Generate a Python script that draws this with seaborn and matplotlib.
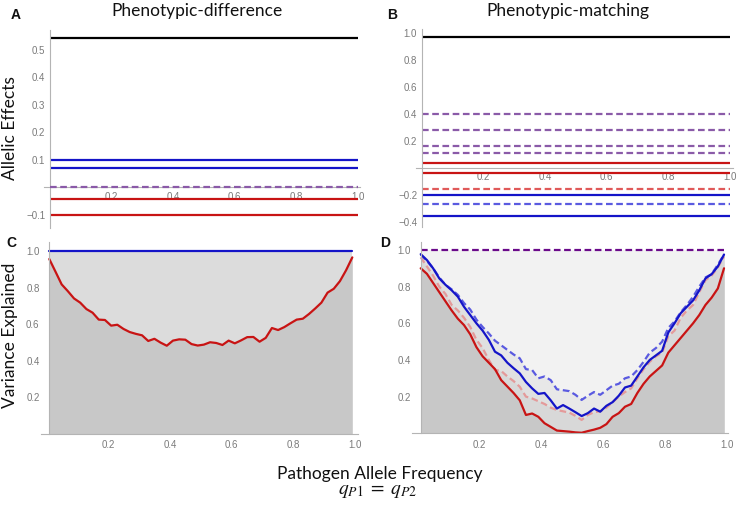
import matplotlib
matplotlib.use("Agg")
import matplotlib.pyplot as plt
import seaborn as sns
import pandas as pd

# ---------------- data ----------------
# Panel A: constant allelic effects (Phenotypic-difference)
a_black = [0.545]
a_blue = [0.10, 0.07]
a_purple_dashed = [0.0]
a_red = [-0.042, -0.10]

# Panel B: constant allelic effects (Phenotypic-matching)
b_black = [0.965]
b_purple_dashed = [0.40, 0.278, 0.159, 0.11]
b_red = [0.036, -0.038]
b_red_dashed = [-0.157]
b_blue = [-0.204, -0.357]
b_blue_dashed = [-0.273]

# Allele frequency grid for panels C and D
freq = [0.01, 0.03, 0.05, 0.07, 0.09, 0.11, 0.13, 0.15, 0.17, 0.19,
        0.21, 0.23, 0.25, 0.27, 0.29, 0.31, 0.33, 0.35, 0.37, 0.39,
        0.41, 0.43, 0.45, 0.47, 0.49, 0.51, 0.53, 0.55, 0.57, 0.59,
        0.61, 0.63, 0.65, 0.67, 0.69, 0.71, 0.73, 0.75, 0.77, 0.79,
        0.81, 0.83, 0.85, 0.87, 0.89, 0.91, 0.93, 0.95, 0.97, 0.99]

# Panel C
c_blue = [1.0] * 50
c_red = [0.956, 0.887, 0.817, 0.780, 0.740, 0.717, 0.682, 0.662, 0.624, 0.622,
         0.591, 0.596, 0.573, 0.556, 0.546, 0.538, 0.507, 0.519, 0.498, 0.481,
         0.509, 0.516, 0.514, 0.490, 0.482, 0.487, 0.500, 0.496, 0.485, 0.509,
         0.494, 0.510, 0.528, 0.529, 0.503, 0.524, 0.578, 0.567, 0.583, 0.604,
         0.624, 0.629, 0.655, 0.685, 0.717, 0.772, 0.793, 0.835, 0.895, 0.965]

# Panel D
d_purple_dashed = [1.0] * 50
d_blue = [0.977, 0.945, 0.900, 0.845, 0.810, 0.780, 0.745, 0.690, 0.645, 0.600,
          0.560, 0.510, 0.445, 0.425, 0.385, 0.355, 0.327, 0.280, 0.245, 0.215,
          0.220, 0.180, 0.135, 0.154, 0.135, 0.115, 0.094, 0.110, 0.135, 0.118,
          0.150, 0.170, 0.205, 0.250, 0.260, 0.310, 0.360, 0.400, 0.425, 0.450,
          0.550, 0.600, 0.655, 0.690, 0.725, 0.780, 0.845, 0.868, 0.910, 0.975]
d_blue_dashed = [0.975, 0.940, 0.900, 0.850, 0.810, 0.785, 0.755, 0.710, 0.675, 0.620,
                 0.580, 0.545, 0.505, 0.480, 0.455, 0.430, 0.409, 0.350, 0.345, 0.300,
                 0.310, 0.290, 0.240, 0.235, 0.230, 0.210, 0.182, 0.205, 0.225, 0.210,
                 0.235, 0.260, 0.270, 0.300, 0.310, 0.345, 0.390, 0.440, 0.465, 0.500,
                 0.575, 0.610, 0.660, 0.700, 0.745, 0.800, 0.850, 0.868, 0.920, 0.975]
d_pink_dashed = [0.960, 0.910, 0.860, 0.800, 0.760, 0.700, 0.670, 0.630, 0.580, 0.510,
                 0.465, 0.400, 0.345, 0.340, 0.310, 0.285, 0.254, 0.200, 0.190, 0.175,
                 0.160, 0.140, 0.127, 0.120, 0.113, 0.095, 0.073, 0.100, 0.115, 0.120,
                 0.140, 0.170, 0.200, 0.225, 0.245, 0.300, 0.350, 0.390, 0.420, 0.440,
                 0.530, 0.560, 0.630, 0.670, 0.700, 0.770, 0.835, 0.860, 0.905, 0.965]
d_red = [0.900, 0.870, 0.820, 0.770, 0.720, 0.670, 0.625, 0.590, 0.540, 0.470,
         0.420, 0.385, 0.350, 0.290, 0.255, 0.220, 0.180, 0.100, 0.108, 0.090,
         0.055, 0.035, 0.015, 0.012, 0.009, 0.005, 0.003, 0.012, 0.020, 0.030,
         0.050, 0.090, 0.110, 0.145, 0.160, 0.220, 0.270, 0.310, 0.340, 0.370,
         0.440, 0.480, 0.520, 0.560, 0.600, 0.645, 0.700, 0.740, 0.790, 0.900]

x_ticks = [0.2, 0.4, 0.6, 0.8, 1.0]
a_yticks = [-0.1, 0.1, 0.2, 0.3, 0.4, 0.5]
b_yticks = [-0.4, -0.2, 0.2, 0.4, 0.6, 0.8, 1.0]
cd_yticks = [0.2, 0.4, 0.6, 0.8, 1.0]

# ---------------- style ----------------
sns.set_theme(style="white")
plt.rcParams['font.family'] = ['Liberation Sans', 'DejaVu Sans']
plt.rcParams['mathtext.fontset'] = 'stix'

W, H = 737, 507
fig = plt.figure(figsize=(W / 100, H / 100), dpi=100)


def add_axes(l, r, t, b):
    return fig.add_axes([l / W, 1 - b / H, (r - l) / W, (b - t) / H])


BLACK = '#000000'
BLUE = '#1414c8'
RED = '#c81414'
PURPLE = '#8a5aa8'
RED_D = '#e05a5a'
BLUE_D = '#5a5ae0'
PINK_D = '#e49a9a'
DPURPLE = '#6a0a8a'
LW = 1.6
DASH = (3.0, 1.6)
AXC = '#b4b4b4'
TICKC = '#7a7a7a'


def style_axes(ax, xorigin, yorigin, xl, yl, yticks, ypad, xpad):
    ax.set_xlim(*xl)
    ax.set_ylim(*yl)
    for s in ['top', 'right']:
        ax.spines[s].set_visible(False)
    ax.spines['left'].set_position(('data', xorigin))
    ax.spines['bottom'].set_position(('data', yorigin))
    for s in ['left', 'bottom']:
        ax.spines[s].set_color(AXC)
        ax.spines[s].set_linewidth(0.8)
    ax.set_xticks(x_ticks)
    ax.set_xticklabels(['%.1f' % v for v in x_ticks])
    ax.set_yticks(yticks)
    ax.set_yticklabels([('%.1f' % v).replace('-', '\u2212') for v in yticks])
    ax.tick_params(axis='both', length=2, width=0.6, color=AXC,
                   labelsize=7, labelcolor=TICKC)
    ax.tick_params(axis='y', pad=ypad)
    ax.tick_params(axis='x', pad=xpad)
    ax.set_xlabel('')
    ax.set_ylabel('')
    ax.patch.set_alpha(0)
    ax.grid(False)


# ---------------- Panel A ----------------
axA = add_axes(44, 360, 30, 228)
for v in a_black:
    axA.hlines(v, 0, 1, color=BLACK, lw=LW)
for v in a_blue:
    axA.hlines(v, 0, 1, color=BLUE, lw=LW)
for v in a_red:
    axA.hlines(v, 0, 1, color=RED, lw=LW)
for v in a_purple_dashed:
    axA.hlines(v, 0, 1, color=PURPLE, lw=LW, linestyles=[(0, DASH)], zorder=3)
style_axes(axA, 0, 0, (-0.0195, 1.0065), (-0.1473, 0.5727), a_yticks, 1.5, 1)

# ---------------- Panel B ----------------
axB = add_axes(416, 733, 29, 227)
for v in b_black:
    axB.hlines(v, 0, 1, color=BLACK, lw=LW)
for v in b_purple_dashed:
    axB.hlines(v, 0, 1, color=PURPLE, lw=LW, linestyles=[(0, DASH)])
for v in b_red:
    axB.hlines(v, 0, 1, color=RED, lw=LW)
for v in b_red_dashed:
    axB.hlines(v, 0, 1, color=RED_D, lw=LW, linestyles=[(0, DASH)])
for v in b_blue:
    axB.hlines(v, 0, 1, color=BLUE, lw=LW)
for v in b_blue_dashed:
    axB.hlines(v, 0, 1, color=BLUE_D, lw=LW, linestyles=[(0, DASH)])
style_axes(axB, 0, 0, (-0.0195, 1.0097), (-0.4407, 1.026), b_yticks, 1.5, 1)

# ---------------- Panel C ----------------
dfC = pd.DataFrame({'freq': freq, 'blue': c_blue, 'red': c_red})
axC = add_axes(41, 358, 241.7, 433.5)
axC.fill_between(dfC['freq'], 0, dfC['blue'], color='#dcdcdc', lw=0)
axC.fill_between(dfC['freq'], 0, dfC['red'], color='#c8c8c8', lw=0)
sns.lineplot(data=dfC, x='freq', y='blue', ax=axC, color=BLUE, lw=LW)
sns.lineplot(data=dfC, x='freq', y='red', ax=axC, color=RED, lw=LW)
style_axes(axC, 0.01, 0, (-0.0168, 1.0084), (0, 1.051), cd_yticks, 5, 3)

# ---------------- Panel D ----------------
dfD = pd.DataFrame({'freq': freq, 'top': d_purple_dashed, 'blue': d_blue,
                    'blue_d': d_blue_dashed, 'pink_d': d_pink_dashed, 'red': d_red})
axD = add_axes(411.7, 728.3, 241.7, 433.3)
axD.fill_between(dfD['freq'], 0, dfD['top'], color='#f2f2f2', lw=0)
axD.fill_between(dfD['freq'], 0, dfD['blue_d'], color='#e8e8e8', lw=0)
axD.fill_between(dfD['freq'], 0, dfD['blue'], color='#e0e0e0', lw=0)
axD.fill_between(dfD['freq'], 0, dfD['pink_d'], color='#d8d8d8', lw=0)
axD.fill_between(dfD['freq'], 0, dfD['red'], color='#c8c8c8', lw=0)
sns.lineplot(data=dfD, x='freq', y='pink_d', ax=axD, color=PINK_D, lw=LW, dashes=False,
             linestyle=(0, DASH))
sns.lineplot(data=dfD, x='freq', y='red', ax=axD, color=RED, lw=LW)
sns.lineplot(data=dfD, x='freq', y='blue_d', ax=axD, color=BLUE_D, lw=LW,
             linestyle=(0, DASH))
sns.lineplot(data=dfD, x='freq', y='blue', ax=axD, color=BLUE, lw=LW)
sns.lineplot(data=dfD, x='freq', y='top', ax=axD, color=DPURPLE, lw=LW,
             linestyle=(0, DASH))
style_axes(axD, 0.01, 0, (-0.0191, 1.0038), (0, 1.045), cd_yticks, 5, 3)

# ---------------- text ----------------
TF = ['Lato', 'DejaVu Sans']
fig.text(197 / W, 1 - 11 / H, 'Phenotypic-difference', ha='center', va='center',
         fontsize=12.5, family=TF, color='#111111')
fig.text(568 / W, 1 - 11 / H, 'Phenotypic-matching', ha='center', va='center',
         fontsize=12.5, family=TF, color='#111111')
fig.text(10 / W, 1 - 128 / H, 'Allelic Effects', rotation=90, ha='center', va='center',
         fontsize=12.5, family=TF, color='#111111')
fig.text(10 / W, 1 - 335 / H, 'Variance Explained', rotation=90, ha='center', va='center',
         fontsize=12.5, family=TF, color='#111111')
fig.text(380 / W, 1 - 474 / H, 'Pathogen Allele Frequency', ha='center', va='center',
         fontsize=12.5, family=TF, color='#111111')
fig.text(378 / W, 1 - 491 / H, r'$q_{P1}\;=\;q_{P2}$', ha='center', va='center',
         fontsize=14, color='#111111')

for lab, x, y in [('A', 16, 15), ('B', 392, 15), ('C', 11, 243), ('D', 385, 243)]:
    fig.text(x / W, 1 - y / H, lab, ha='center', va='center', fontsize=10,
             fontweight='bold', color='#111111')

fig.savefig('out.png', dpi=100)
